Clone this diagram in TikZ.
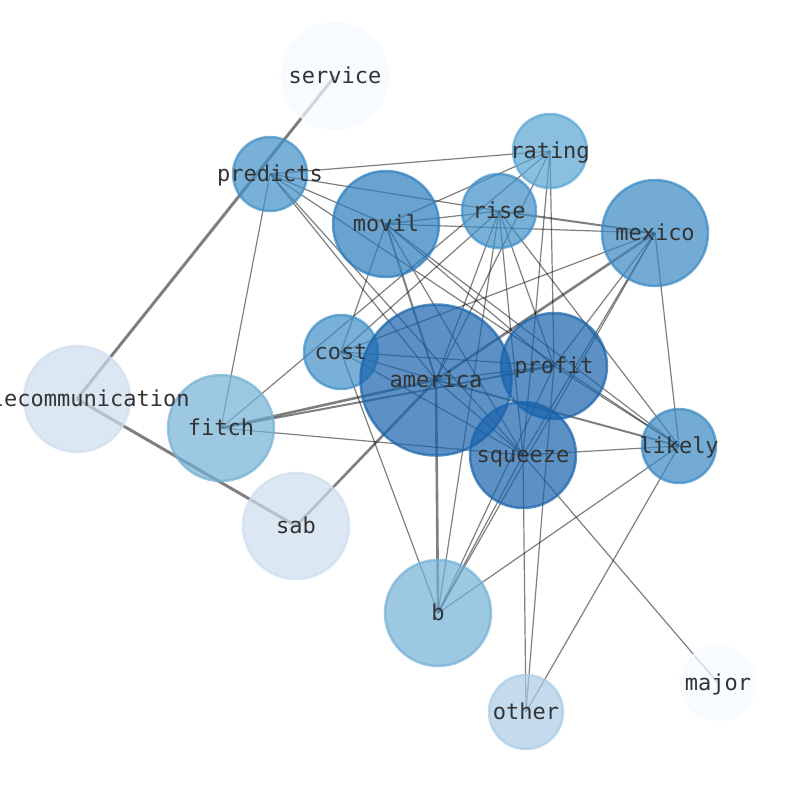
\documentclass[tikz,border=0pt]{standalone}
\usepackage{fontspec}
\setmonofont{DejaVu Sans Mono}
\definecolor{cA}{HTML}{1863AC}
\definecolor{cB}{HTML}{2A7CBC}
\definecolor{cC}{HTML}{3888C3}
\definecolor{cD}{HTML}{3E8EC7}
\definecolor{cE}{HTML}{58A4D3}
\definecolor{cF}{HTML}{73B0D6}
\definecolor{cG}{HTML}{A9CCE5}
\definecolor{cH}{HTML}{CDDDEF}
\definecolor{cI}{HTML}{F5FAFF}
\definecolor{labelgray}{HTML}{333333}
\begin{document}
\begin{tikzpicture}[x=1pt,y=-1pt,
  edge/.style={draw=black, draw opacity=0.5, line width=1.2pt},
  wideedge/.style={edge, line width=2pt},
  thickedge/.style={edge, line width=2.6pt},
  heavyedge/.style={edge, line width=3pt},
  bubble/.style={circle, inner sep=0pt, fill opacity=0.7, draw opacity=0.7, line width=2.5pt},
  big/.style={bubble, minimum size=151pt},
  mid/.style={bubble, minimum size=106pt},
  small/.style={bubble, minimum size=74pt},
  lbl/.style={text=labelgray, inner sep=0pt, font=\fontsize{22}{26}\selectfont\ttfamily,
    text height=17.6pt, text depth=2.4pt}]
\useasboundingbox (0,0) rectangle (794,790);
% positions
\coordinate (service) at (335,76);
\coordinate (predicts) at (270,174);
\coordinate (rating) at (550,151);
\coordinate (rise) at (499,211);
\coordinate (movil) at (386,224);
\coordinate (mexico) at (655,233);
\coordinate (cost) at (341,352);
\coordinate (america) at (436,380);
\coordinate (profit) at (554,366);
\coordinate (telecom) at (77,399);
\coordinate (fitch) at (221,428);
\coordinate (likely) at (679,446);
\coordinate (squeeze) at (523,455);
\coordinate (sab) at (296,526);
\coordinate (b) at (438,613);
\coordinate (major) at (718,683);
\coordinate (other) at (526,712);
% edges
\draw[heavyedge] (telecom) -- (service);
\draw[heavyedge] (telecom) -- (sab);
\draw[thickedge] (america) -- (b);
\draw[thickedge] (sab) -- (america);
\draw[thickedge] (america) -- (mexico);
\draw[thickedge] (fitch) -- (america);
\draw[wideedge] (movil) -- (america);
\draw[wideedge] (rise) -- (mexico);
\draw[wideedge] (fitch) -- (profit);
\draw[wideedge] (america) -- (likely);
\foreach \u/\v in {predicts/rating, predicts/rise, predicts/fitch, predicts/movil,
  predicts/america, predicts/squeeze, predicts/likely,
  rating/movil, rating/america, rating/fitch, rating/profit, rating/squeeze,
  rise/movil, rise/cost, rise/america, rise/b, rise/squeeze, rise/profit, rise/likely,
  movil/mexico, movil/cost, movil/squeeze, movil/profit, movil/likely,
  mexico/cost, mexico/profit, mexico/squeeze, mexico/b, mexico/likely,
  cost/america, cost/profit, cost/squeeze, cost/b,
  america/squeeze, america/profit,
  profit/other, profit/b, profit/likely,
  fitch/squeeze,
  squeeze/likely, squeeze/major, squeeze/other, squeeze/b,
  likely/b, likely/other}
  \draw[edge] (\u) -- (\v);
% nodes
\node[mid, fill=cI, draw=cI] (service-c) at (service) {};
\node[small, fill=cD, draw=cD] (predicts-c) at (predicts) {};
\node[small, fill=cE, draw=cE] (rating-c) at (rating) {};
\node[small, fill=cD, draw=cD] (rise-c) at (rise) {};
\node[mid, fill=cB, draw=cB] (movil-c) at (movil) {};
\node[mid, fill=cC, draw=cC] (mexico-c) at (mexico) {};
\node[small, fill=cD, draw=cD] (cost-c) at (cost) {};
\node[big, fill=cA, draw=cA] (america-c) at (america) {};
\node[mid, fill=cA, draw=cA] (profit-c) at (profit) {};
\node[mid, fill=cH, draw=cH] (telecom-c) at (telecom) {};
\node[mid, fill=cF, draw=cF] (fitch-c) at (fitch) {};
\node[small, fill=cC, draw=cC] (likely-c) at (likely) {};
\node[mid, fill=cA, draw=cA] (squeeze-c) at (squeeze) {};
\node[mid, fill=cH, draw=cH] (sab-c) at (sab) {};
\node[mid, fill=cF, draw=cF] (b-c) at (b) {};
\node[small, fill=cI, draw=cI] (major-c) at (major) {};
\node[small, fill=cG, draw=cG] (other-c) at (other) {};
% labels
\node[lbl] (service-l) at (service) {service};
\node[lbl] (predicts-l) at (predicts) {predicts};
\node[lbl] (rating-l) at (rating) {rating};
\node[lbl] (rise-l) at (rise) {rise};
\node[lbl] (movil-l) at (movil) {movil};
\node[lbl] (mexico-l) at (mexico) {mexico};
\node[lbl] (cost-l) at (cost) {cost};
\node[lbl] (america-l) at (america) {america};
\node[lbl] (profit-l) at (profit) {profit};
\node[lbl] (telecom-l) at (telecom) {telecommunication};
\node[lbl] (fitch-l) at (fitch) {fitch};
\node[lbl] (likely-l) at (likely) {likely};
\node[lbl] (squeeze-l) at (squeeze) {squeeze};
\node[lbl] (sab-l) at (sab) {sab};
\node[lbl] (b-l) at (b) {b};
\node[lbl] (major-l) at (major) {major};
\node[lbl] (other-l) at (other) {other};
\end{tikzpicture}
\end{document}
